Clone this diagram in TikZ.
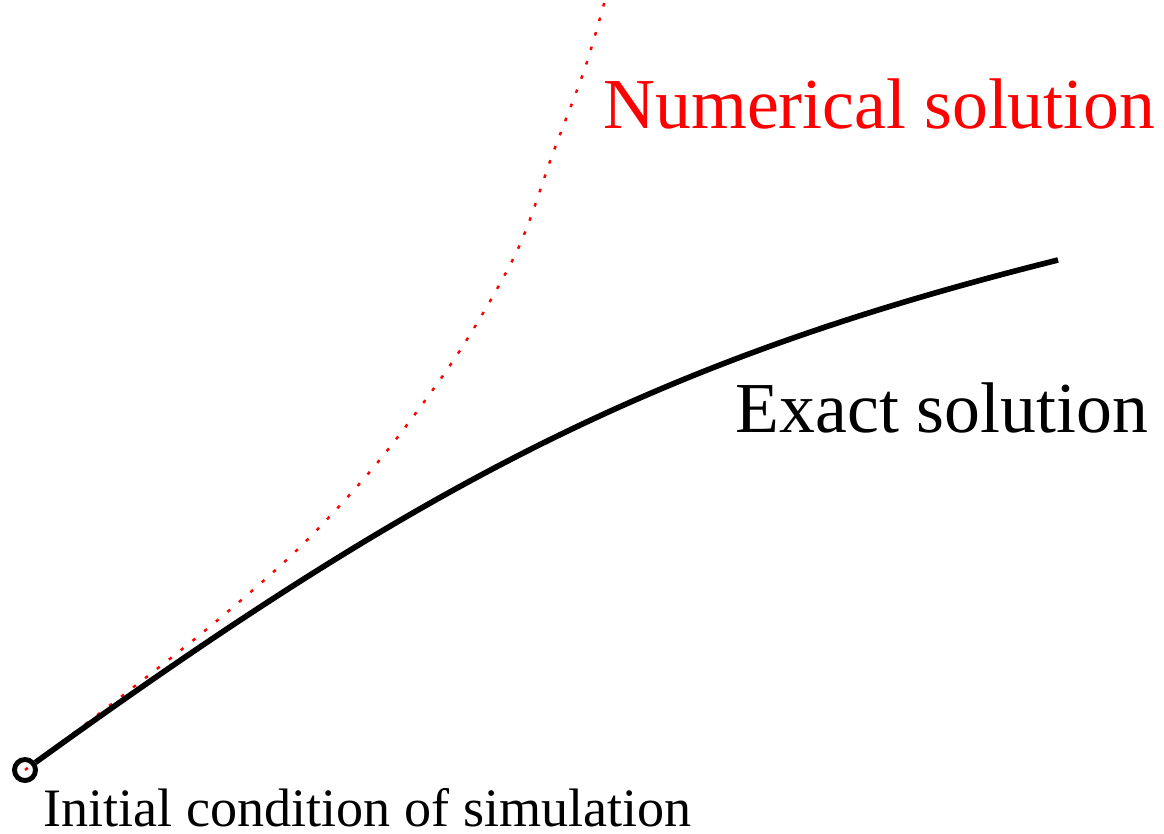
\documentclass[tikz,border=0pt]{standalone}
\usepackage{fontspec}
\setmainfont{Liberation Serif}
\usetikzlibrary{positioning, calc}

\begin{document}
\begin{tikzpicture}[
	exactcurve/.style={black, line width=1.6pt},
	numcurve/.style={red, line width=0.7pt, dash pattern=on 1pt off 3.3pt},
	initpoint/.style={circle, draw=black, line width=1.4pt, minimum size=0.21cm, inner sep=0pt},
	biglabel/.style={font=\fontsize{20.4}{24}\selectfont, inner sep=0pt, anchor=base west},
	smalllabel/.style={font=\fontsize{15.4}{18}\selectfont, inner sep=0pt, anchor=base west}
]
\useasboundingbox (0,0) rectangle (11.64,8.33);

% Initial condition
\coordinate (ic0) at (0.25,0.63);
\node[smalllabel] (iclabel) at (0.43,0.07) {Initial condition of simulation};

% Numerical solution (dotted)
\draw[numcurve] plot[smooth] coordinates {(0.25,0.63) (1.13,1.30) (2.07,2.04) (2.97,2.83) (3.78,3.71) (4.57,4.78) (5.17,5.82) (5.53,6.80) (5.85,7.65) (6.05,8.33)};

% Exact solution
\node[initpoint] (ic) at (ic0) {};
\coordinate (exactend) at (10.58,5.73);
\draw[exactcurve] (ic) .. controls (4.25,3.52) and (6.58,4.73) .. (exactend);

% Labels
\node[biglabel, red] (numlabel) at (6.03,7.05) {Numerical solution};
\node[biglabel] (exactlabel) at (7.35,4.01) {Exact solution};

\end{tikzpicture}
\end{document}
